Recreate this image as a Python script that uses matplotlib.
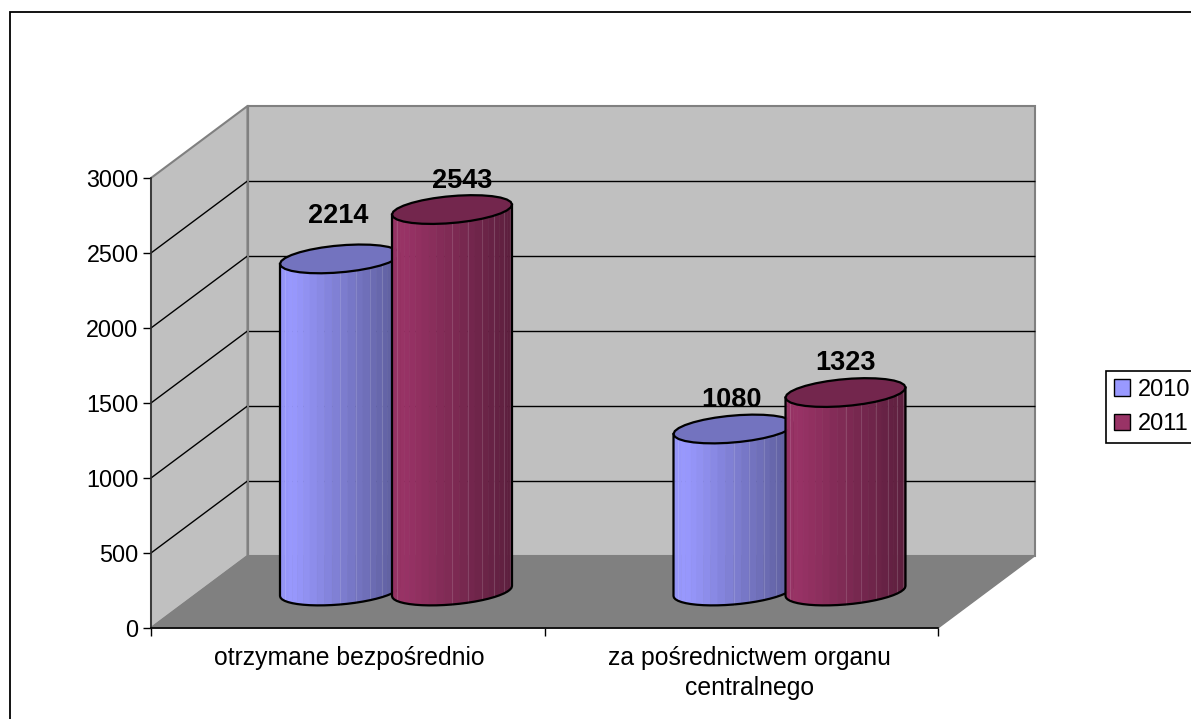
import numpy as np
import matplotlib
matplotlib.use("Agg")
import matplotlib.pyplot as plt
from matplotlib.patches import Polygon, Patch, Rectangle
from matplotlib.transforms import ScaledTranslation

plt.rcParams['font.family'] = ['Liberation Sans', 'DejaVu Sans']

# data
categories = ["otrzymane bezpośrednio", "za pośrednictwem organu\ncentralnego"]
years = ["2010", "2011"]
values_2010 = [2214, 1080]
values_2011 = [2543, 1323]
y_ticks = [0, 500, 1000, 1500, 2000, 2500, 3000]

W, H = 1191, 719
fig = plt.figure(figsize=(W / 100, H / 100), dpi=100)
# axes box = front plane of the 3d chart
ax = fig.add_axes([151 / W, 1 - 628 / H, 787 / W, 450 / H])
ax.set_xlim(0, 2)
ax.set_ylim(0, 3000)
ax.patch.set_visible(False)

# outer frame, right and bottom sides are cut off by the image
fig.add_artist(Rectangle((10 / W, -0.1), 1.2, 1.1 - 12 / H, transform=fig.transFigure,
                         fill=False, edgecolor="black", linewidth=1.3))

# depth of the box (px converted to data units)
px_x = 2 / 787
px_y = 3000 / 450
dx = 96.5 * px_x
dy = 72 * px_y

# walls and floor
wall_edge = "#808080"
back = Polygon([(dx, dy), (2 + dx, dy), (2 + dx, 3000 + dy), (dx, 3000 + dy)], closed=True,
               facecolor="#C0C0C0", edgecolor=wall_edge, linewidth=1.5, zorder=1, clip_on=False)
side = Polygon([(0, 0), (dx, dy), (dx, 3000 + dy), (0, 3000)], closed=True,
               facecolor="#C0C0C0", edgecolor=wall_edge, linewidth=1.5, zorder=1, clip_on=False)
floor = Polygon([(0, 0), (2, 0), (2 + dx, dy), (dx, dy)], closed=True,
                facecolor="#808080", edgecolor=wall_edge, linewidth=1, zorder=2, clip_on=False)
ax.add_patch(back)
ax.add_patch(side)
ax.add_patch(floor)

# gridlines on the back wall and the side wall, the top edge stays grey
for v in y_ticks[1:-1]:
    ax.plot([dx, 2 + dx], [v + dy, v + dy], color="black", lw=1, zorder=1.5, clip_on=False,
            solid_capstyle="butt")
    ax.plot([0, dx], [v, v + dy], color="black", lw=1, zorder=1.5, clip_on=False,
            solid_capstyle="butt")
ax.plot([dx, dx], [dy, 3000 + dy], color=wall_edge, lw=1.5, zorder=1.6, clip_on=False)


def shade(color, u):
    # light near the left side, darker going right
    if u < 0.1:
        f = 0.96 + 0.4 * u
    else:
        f = 1.0 - 0.40 * (u - 0.1) / 0.9
    return tuple(c * f for c in color)


def cylinder(x, value, color, z):
    a = 60 * px_x
    k = 5 * px_y
    h = 13.5 * px_y
    cy = dy / 2 + 1 * px_y
    # side, one strip per facet
    t = np.linspace(np.pi, 0, 25)
    xs = x + a * np.cos(t)
    low = cy + k * np.cos(t) - h * np.sin(t)
    for i in range(len(t) - 1):
        u = (xs[i] + xs[i + 1]) / 2
        u = (u - (x - a)) / (2 * a)
        c = shade(color, u)
        ax.add_patch(Polygon([(xs[i], low[i]), (xs[i + 1], low[i + 1]),
                              (xs[i + 1], low[i + 1] + value), (xs[i], low[i] + value)],
                             closed=True, facecolor=c, edgecolor=c, linewidth=0.4,
                             zorder=z, clip_on=False))
        # seams show mostly on the dark half
        if i == 3 or (i > 11 and i % 2 == 0):
            ax.plot([xs[i], xs[i]], [low[i], low[i] + value], color="white", alpha=0.14,
                    lw=0.8, zorder=z + 0.1, clip_on=False)
    # outline of the side
    ax.plot(np.r_[xs[0], xs, xs[-1]], np.r_[low[0] + value, low, low[-1] + value],
            color="black", lw=1.6, zorder=z + 0.2, clip_on=False)
    # top ellipse
    t2 = np.linspace(0, 2 * np.pi, 31)
    ex = x + a * np.cos(t2)
    ey = cy + value + k * np.cos(t2) - h * np.sin(t2)
    ax.add_patch(Polygon(np.c_[ex, ey], closed=True, facecolor=tuple(c * 0.75 for c in color),
                         edgecolor="black", linewidth=1.6, zorder=z + 0.3, clip_on=False))


blue = (0x99 / 255, 0x99 / 255, 1.0)
maroon = (0x99 / 255, 0x33 / 255, 0x66 / 255)
offset = 56 * px_x
for i in range(2):
    x_mid = i + 0.5 + dx / 2
    cylinder(x_mid - offset, values_2010[i], blue, 3 + i * 2)
    cylinder(x_mid + offset, values_2011[i], maroon, 4 + i * 2)

# value labels, each one placed by hand in the original
label_shift = {(0, 0): (-2, 44), (0, 1): (10, 30), (1, 0): (-2, 30), (1, 1): (0, 31)}
for i in range(2):
    x_mid = i + 0.5 + dx / 2
    for s, vals in enumerate([values_2010, values_2011]):
        sign = -1 if s == 0 else 1
        sx, sy = label_shift[(i, s)]
        ax.annotate(str(vals[i]), (x_mid + sign * offset, vals[i] + dy / 2),
                    xytext=(sx * 0.72, sy * 0.72), textcoords="offset points",
                    ha="center", va="center", fontsize=19.5, fontweight="bold",
                    zorder=20, annotation_clip=False)

# axes
for s in ["top", "right"]:
    ax.spines[s].set_visible(False)
ax.spines["left"].set_color("#303030")
ax.spines["left"].set_linewidth(1.2)
ax.spines["bottom"].set_linewidth(1.2)
ax.spines["left"].set_zorder(2.5)
ax.spines["bottom"].set_zorder(2.5)
ax.set_yticks(y_ticks)
ax.tick_params(axis="y", labelsize=16.8, length=6, width=1, pad=3)
ax.set_xticks([0, 1, 2])
ax.set_xticklabels([])
ax.tick_params(axis="x", which="major", length=6, width=1)
ax.set_xticks([0.5, 1.5], minor=True)
ax.set_xticklabels(categories, minor=True, fontsize=17.8, linespacing=1.3)
ax.tick_params(axis="x", which="minor", length=0, pad=13)
# labels sit a bit right of the tick middle
for lab, shift in zip(ax.xaxis.get_minorticklabels(), [1.5, 8]):
    lab.set_transform(lab.get_transform() + ScaledTranslation(shift / 100, 0, fig.dpi_scale_trans))

# legend runs off the right edge
handles = [Patch(facecolor=blue, edgecolor="black"), Patch(facecolor=maroon, edgecolor="black")]
leg = fig.legend(handles, years, loc="center left", bbox_to_anchor=(1106 / W, 1 - 407 / H),
                 bbox_transform=fig.transFigure, fontsize=17, frameon=True, fancybox=False,
                 edgecolor="black", framealpha=1, borderaxespad=0, borderpad=0.33,
                 handlelength=0.68, handleheight=0.68, handletextpad=0.35, labelspacing=0.52)
leg.get_frame().set_linewidth(1.2)

fig.savefig("out.png", dpi=100)
